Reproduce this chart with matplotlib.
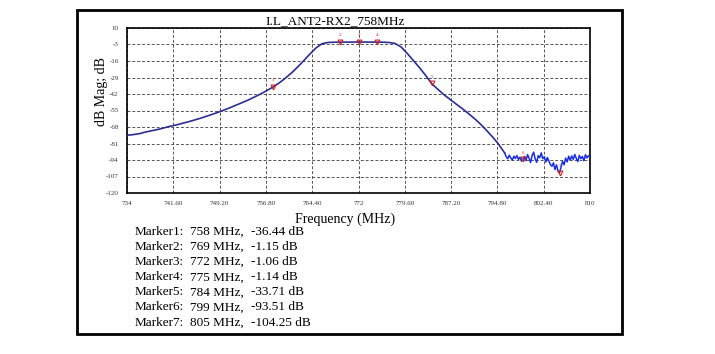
import matplotlib
matplotlib.use("Agg")
import matplotlib.pyplot as plt
from matplotlib.patches import Rectangle
import numpy as np

plt.rcParams["axes.unicode_minus"] = False

# ---------------- data ----------------
title = "I.L_ANT2-RX2_758MHz"
x_label = "Frequency (MHz)"
y_label = "dB Mag; dB"

x_ticks = [734, 741.6, 749.2, 756.8, 764.4, 772, 779.6, 787.2, 794.8, 802.4, 810]
x_tick_labels = ["734", "741.60", "749.20", "756.80", "764.40", "772",
                 "779.60", "787.20", "794.80", "802.40", "810"]
y_ticks = [10, -3, -16, -29, -42, -55, -68, -81, -94, -107, -120]

freq_main = list(range(734, 797))
db_main = [-74.5, -74.0, -73.3, -72.0, -71.0, -70.0, -68.8, -67.5, -66.5, -65.2,
           -64.0, -62.6, -61.2, -59.6, -58.0, -56.3, -54.5, -52.6, -50.6, -48.6,
           -46.5, -44.2, -41.8, -39.2, -36.4, -33.2, -29.5, -25.4, -20.8, -15.8,
           -10.6, -5.8, -2.4, -1.4, -1.2, -1.15, -1.1, -1.08, -1.06, -1.08,
           -1.1, -1.14, -1.2, -1.4, -2.2, -5.0, -10.0, -15.6, -21.2, -27.2,
           -33.7, -38.2, -42.4, -46.2, -49.8, -53.4, -57.2, -61.2, -65.6, -70.6,
           -75.8, -81.6, -88.5]

freq_noise = [796.0, 796.25, 796.5, 796.75, 797.0, 797.25, 797.5, 797.75, 798.0, 798.25,
              798.5, 798.75, 799.0, 799.25, 799.5, 799.75, 800.0, 800.25, 800.5, 800.75,
              801.0, 801.25, 801.5, 801.75, 802.0, 802.25, 802.5, 802.75, 803.0, 803.25,
              803.5, 803.75, 804.0, 804.25, 804.5, 804.75, 805.0, 805.25, 805.5, 805.75,
              806.0, 806.25, 806.5, 806.75, 807.0, 807.25, 807.5, 807.75, 808.0, 808.25,
              808.5, 808.75, 809.0, 809.25, 809.5, 809.75, 810.0]
db_noise = [-88.5, -91.5, -93.0, -90.2, -92.4, -94.1, -91.0, -92.8, -90.5, -93.6,
            -91.8, -95.0, -93.51, -91.2, -94.5, -89.8, -92.6, -96.0, -90.4, -87.8,
            -93.2, -95.8, -90.6, -92.2, -88.4, -93.0, -91.4, -95.6, -92.0, -94.8,
            -97.5, -99.0, -96.2, -101.5, -97.8, -102.8, -104.25, -99.5, -95.0, -97.8,
            -92.5, -95.5, -91.0, -94.2, -90.8, -93.5, -89.6, -92.8, -95.2, -90.4,
            -93.0, -91.2, -94.6, -89.8, -92.4, -90.6, -91.5]

marker_ids = [1, 2, 3, 4, 5, 6, 7]
marker_freq = [758, 769, 772, 775, 784, 799, 805]
marker_db = [-36.44, -1.15, -1.06, -1.14, -33.71, -93.51, -104.25]

# ---------------- figure ----------------
W, H = 715, 354
fig = plt.figure(figsize=(W / 100, H / 100), dpi=100)
fig.patch.set_facecolor("white")

serif = ["Liberation Serif", "DejaVu Serif"]

def fx(px):
    return px / W

def fy(py):
    return 1 - py / H

# outer frame
fig.patches.append(Rectangle((fx(77), fy(334)), fx(622) - fx(77), fy(10) - fy(334),
                             transform=fig.transFigure, fill=False,
                             edgecolor="black", linewidth=2.0))

ax = fig.add_axes([fx(127), fy(193), fx(590) - fx(127), fy(28) - fy(193)])
ax.set_xlim(734, 810)
ax.set_ylim(-120, 10)

ax.plot(freq_main, db_main, color="#2a2f8f", linewidth=1.2, zorder=3)
ax.plot(freq_noise, db_noise, color="#1a2ee0", linewidth=1.1, zorder=3)

# markers
ax.plot(marker_freq, marker_db, linestyle="none", marker="v", markersize=3.5,
        markerfacecolor="none", markeredgecolor="#d02020", markeredgewidth=0.8, zorder=4)
for i, mx, my in zip(marker_ids, marker_freq, marker_db):
    ax.annotate(str(i), (mx, my), xytext=(0, 3.5), textcoords="offset points",
                ha="center", va="bottom", fontsize=3.5, color="#d02020", family=serif)

ax.set_xticks(x_ticks)
ax.set_xticklabels(x_tick_labels)
ax.set_yticks(y_ticks)
ax.tick_params(length=0, labelsize=5, colors="#333333", pad=6)
for lab in ax.get_xticklabels() + ax.get_yticklabels():
    lab.set_family(serif)
ax.grid(True, color="#555555", linestyle=(0, (3, 2)), linewidth=0.7)
for s in ax.spines.values():
    s.set_linewidth(1.2)
    s.set_color("black")

fig.text(fx(335), fy(21), title, ha="center", va="center", fontsize=9.5, family=serif)
fig.text(fx(102), fy(92), y_label, ha="center", va="center", rotation=90,
         fontsize=10, family=serif)
fig.text(fx(345), fy(219), x_label, ha="center", va="center", fontsize=10, family=serif)

# marker table
for k, (i, mf, md) in enumerate(zip(marker_ids, marker_freq, marker_db)):
    y = fy(232 + k * 15.1)
    fig.text(fx(135), y, f"Marker{i}:", ha="left", va="center", fontsize=9.5, family=serif)
    fig.text(fx(190), y, f"{mf} MHz,", ha="left", va="center", fontsize=9.5, family=serif)
    fig.text(fx(251), y, f"{md:.2f} dB", ha="left", va="center", fontsize=9.5, family=serif)

fig.savefig("out.png", dpi=100)
